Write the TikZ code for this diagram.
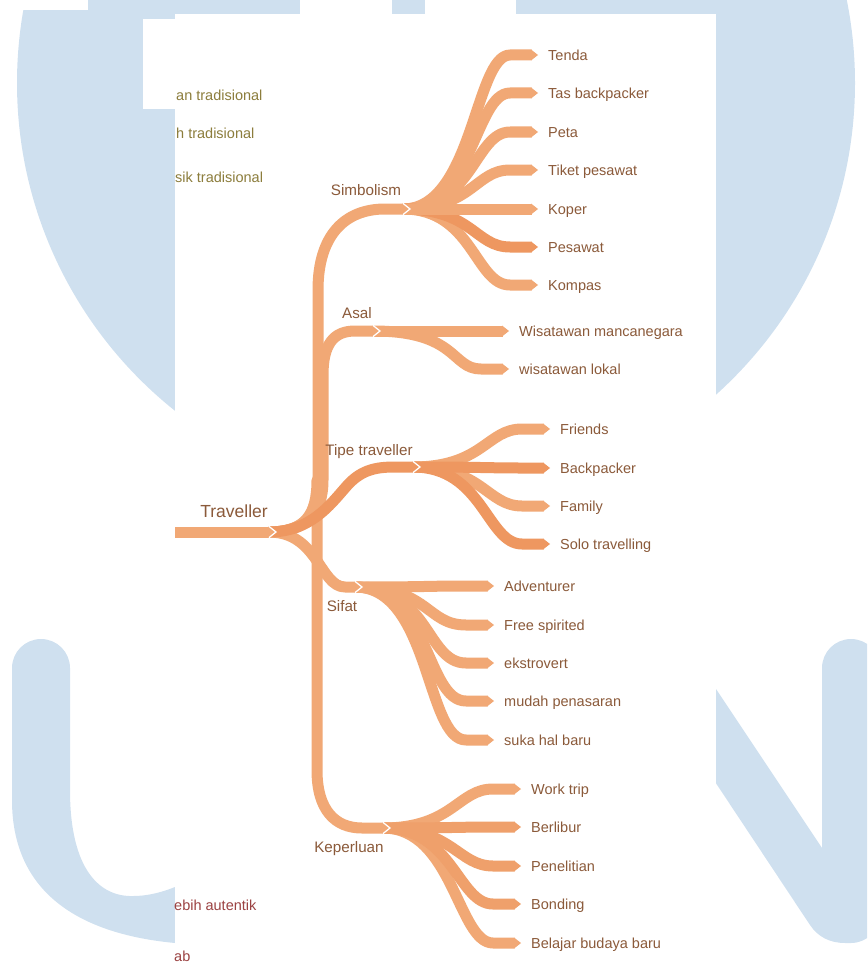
\documentclass[tikz,border=0pt]{standalone}
\usepackage{fontspec}
\setmainfont{Liberation Sans}
\definecolor{wm}{HTML}{CFE0EF}
\definecolor{ribL}{HTML}{F1A875}
\definecolor{ribM}{HTML}{EFA06B}
\definecolor{ribD}{HTML}{EE9760}
\definecolor{txt}{HTML}{8B5A3A}
\definecolor{olivetxt}{HTML}{8C7D3C}
\definecolor{redtxt}{HTML}{9B4242}
\newcommand\mmca{70}
\newcommand\mmcb{35}
\newcommand\mmtip[2]{\fill[#2] ([shift={(-7.6,-5.5)}]#1) -- ([xshift=-0.6pt]#1) -- ([shift={(-7.6,5.5)}]#1) -- cycle;}
\newcommand\mmnotch[1]{\draw[notch] ([shift={(-7,-5.6)}]#1) -- (#1) -- ([shift={(-7,5.6)}]#1);}
\newcommand\mmleaf[6]{%
  \node[leaf] (#2) at (#3,#4) {#5};
  \draw[ribbon,draw=#6] ([xshift=-7pt]#1) .. controls +(\mmca,0) and +(-\mmcb,0) .. ([xshift=-38pt]#2.west) -- ([xshift=-16.5pt]#2.west);
  \coordinate (#2-t) at ([xshift=-9.4pt]#2.west);
  \mmtip{#2-t}{#6}
}
\begin{document}
\begin{tikzpicture}[x=1pt,y=-1pt,
  ribbon/.style={line width=11pt, line cap=butt, line join=round},
  notch/.style={draw=white, line width=1.3pt},
  leaf/.style={anchor=west, inner sep=0pt, text=txt, font=\fontsize{14.5}{17}\selectfont, text height=10.4pt, text depth=0pt},
  cat/.style={inner sep=0pt, text=txt, font=\fontsize{15.2}{18}\selectfont, text height=10.9pt, text depth=0pt},
  root/.style={inner sep=0pt, text=txt, font=\fontsize{17.5}{20}\selectfont, text height=12.5pt, text depth=0pt},
  cut/.style={leaf, text=olivetxt},
  cutred/.style={leaf, text=redtxt}]
\useasboundingbox (0,0) rectangle (867,963);
% ---------- watermark background ----------
\begin{scope}
\clip (0,0) rectangle (867,963);
\fill[wm] (436,83) circle[radius=419pt];
% U
\fill[wm] (12,668) .. controls (12,652) and (25,639) .. (41,639) .. controls (57,639) and (70,652) .. (70,668)
  -- (70,790) .. controls (70,870) and (100,897) .. (133,896) .. controls (150,896) and (165,891) .. (175,887)
  -- (175,943) .. controls (90,935) and (12,900) .. (12,800) -- cycle;
% N
\fill[wm] (680,635) -- (822,848) -- (822,668) .. controls (822,652) and (835,639) .. (851,639)
  .. controls (867,639) and (880,652) .. (880,668) -- (880,914) .. controls (880,930) and (867,943) .. (851,943)
  -- (845,943) .. controls (830,943) and (818,937) .. (810,925) -- (680,729) -- cycle;
% white covers
\fill[white] (0,0) rectangle (88,10);
\fill[white] (300,0) rectangle (392,14);
\fill[white] (425,0) rectangle (516,14);
\fill[white] (175,14) rectangle (716,963);
\fill[white] (143,19) rectangle (175,109);
\end{scope}
% ---------- cut-off texts ----------
\node[cut] (c1) at (176,95) {an tradisional};
\node[cut] (c2) at (176,133) {h tradisional};
\node[cut] (c3) at (175,177) {sik tradisional};
\node[cutred] (c4) at (174,905) {ebih autentik};
\node[cutred] (c5) at (174,956) {ab};
% ---------- hubs ----------
\coordinate (R0) at (175,532);
\coordinate (R) at (276,532);
\coordinate (hS) at (410,209);
\coordinate (hA) at (380,331);
\coordinate (hT) at (420,467);
\coordinate (hF) at (362,587);
\coordinate (hK) at (390,828);
% ---------- leaves ----------
% Simbolism
\renewcommand\mmca{70}\renewcommand\mmcb{35}
\mmleaf{hS}{tenda}{548}{55}{Tenda}{ribL}
\mmleaf{hS}{tas}{548}{93}{Tas backpacker}{ribL}
\mmleaf{hS}{peta}{548}{132}{Peta}{ribL}
\mmleaf{hS}{tiket}{548}{170}{Tiket pesawat}{ribL}
\mmleaf{hS}{kompas}{548}{285}{Kompas}{ribL}
\mmleaf{hS}{pesawat}{548}{247}{Pesawat}{ribD}
\mmleaf{hS}{koper}{548}{209}{Koper}{ribL}
% Asal
\renewcommand\mmca{85}\renewcommand\mmcb{30}
\mmleaf{hA}{lokal}{519}{369}{wisatawan lokal}{ribL}
\mmleaf{hA}{manca}{519}{331}{Wisatawan mancanegara}{ribL}
% Tipe traveller
\renewcommand\mmca{70}\renewcommand\mmcb{35}
\mmleaf{hT}{friends}{560}{429}{Friends}{ribL}
\mmleaf{hT}{family}{560}{506}{Family}{ribL}
\mmleaf{hT}{solo}{560}{544}{Solo travelling}{ribD}
\mmleaf{hT}{backp}{560}{468}{Backpacker}{ribD}
% Sifat
\renewcommand\mmca{75}\renewcommand\mmcb{40}
\mmleaf{hF}{suka}{504}{740}{suka hal baru}{ribL}
\mmleaf{hF}{mudah}{504}{701}{mudah penasaran}{ribL}
\mmleaf{hF}{ekstro}{504}{663}{ekstrovert}{ribL}
\mmleaf{hF}{free}{504}{625}{Free spirited}{ribL}
\mmleaf{hF}{adv}{504}{586}{Adventurer}{ribL}
% Keperluan
\renewcommand\mmca{70}\renewcommand\mmcb{35}
\mmleaf{hK}{work}{531}{789}{Work trip}{ribL}
\mmleaf{hK}{belajar}{531}{943}{Belajar budaya baru}{ribL}
\mmleaf{hK}{bonding}{531}{904}{Bonding}{ribM}
\mmleaf{hK}{penelitian}{531}{866}{Penelitian}{ribM}
\mmleaf{hK}{berlibur}{531}{827}{Berlibur}{ribM}
% ---------- main branches ----------
\draw[ribbon,draw=ribL] ([xshift=-7pt]R) .. controls (305,532) and (317,515) .. (317,480)
  -- (317,770) .. controls (317,810) and (335,828) .. (362,828) -- ([xshift=-7.1pt]hK);
\mmtip{hK}{ribL}
\draw[ribbon,draw=ribL] ([xshift=-7pt]R) .. controls (305,532) and (318,515) .. (318,480)
  -- (318,290) .. controls (318,235) and (345,209) .. (385,209) -- ([xshift=-7.1pt]hS);
\mmtip{hS}{ribL}
\draw[ribbon,draw=ribL] ([xshift=-7pt]R) .. controls (305,532) and (323,515) .. (323,480)
  -- (323,375) .. controls (323,345) and (333,331) .. (355,331) -- ([xshift=-7.1pt]hA);
\mmtip{hA}{ribL}
\draw[ribbon,draw=ribL] ([xshift=-7pt]R) .. controls (318,532) and (320,587) .. (345,587) -- ([xshift=-7.1pt]hF);
\mmtip{hF}{ribL}
\draw[ribbon,draw=ribD] ([xshift=-7pt]R) .. controls (310,532) and (330,505) .. (345,488)
  .. controls (360,470) and (375,467) .. (395,467) -- ([xshift=-7.1pt]hT);
\mmtip{hT}{ribD}
% root bar
\draw[ribbon,draw=ribL] (R0) -- ([xshift=-7.1pt]R);
\mmtip{R}{ribL}
% notches
\mmnotch{R}
\mmnotch{hS}
\mmnotch{hA}
\mmnotch{hT}
\mmnotch{hF}
\mmnotch{hK}
% ---------- labels ----------
\node[root] (trav) at (234,511) {Traveller};
\node[cat] (simb) at (366,190) {Simbolism};
\node[cat] (asal) at (357,313) {Asal};
\node[cat] (tipe) at (369,450) {Tipe traveller};
\node[cat] (sifat) at (342,606) {Sifat};
\node[cat] (keper) at (349,847) {Keperluan};
\end{tikzpicture}
\end{document}
